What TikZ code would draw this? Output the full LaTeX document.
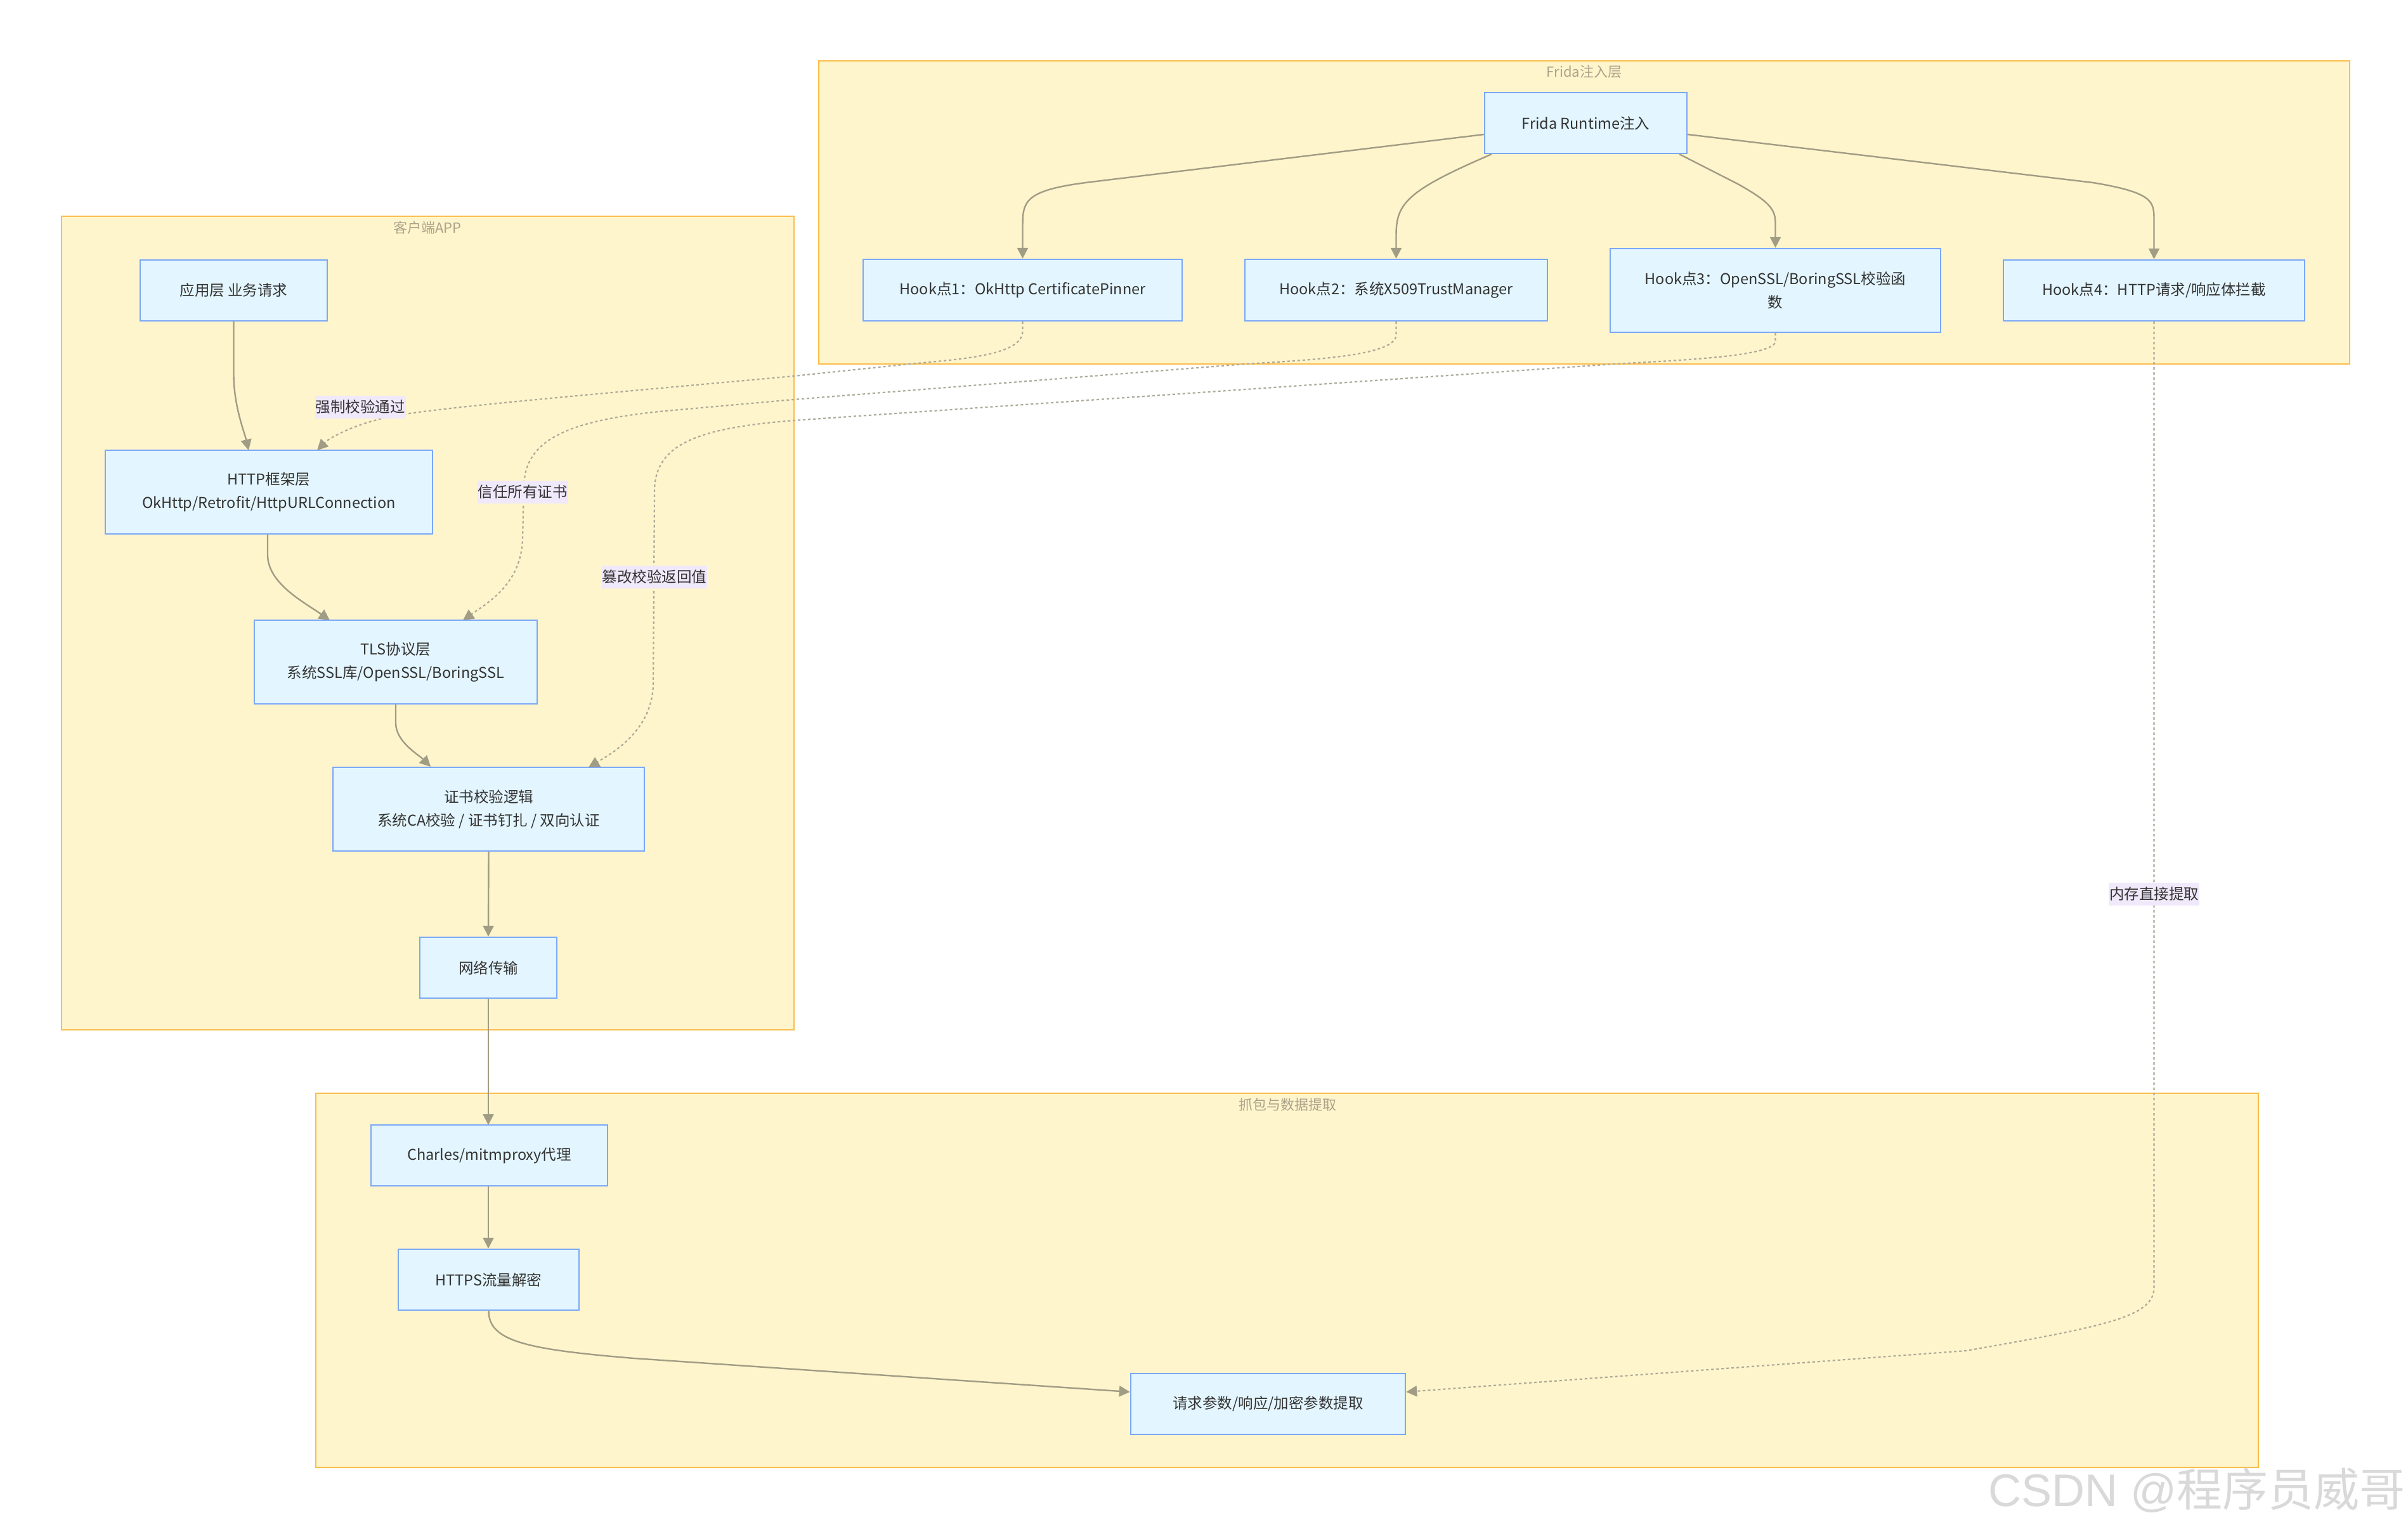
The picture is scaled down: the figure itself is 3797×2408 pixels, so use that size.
\documentclass[tikz,border=0pt]{standalone}
\usepackage{fontspec}
\setmainfont{Noto Sans CJK SC}
\newfontfamily\wmlatin{Liberation Sans}
\usetikzlibrary{arrows.meta}
\definecolor{clusterfill}{HTML}{FFF5CC}
\definecolor{clusterstroke}{HTML}{FBBD4C}
\definecolor{nodefill}{HTML}{E3F5FE}
\definecolor{nodestroke}{HTML}{7BA8F7}
\definecolor{edgec}{HTML}{A19C84}
\definecolor{dashc}{HTML}{ADAA98}
\definecolor{labelbg}{HTML}{F0E9FB}
\definecolor{textc}{HTML}{333333}
\definecolor{titlec}{HTML}{ABA48A}
\definecolor{wmc}{HTML}{D9D9D9}
\newcommand\mynodefont{\fontsize{23.5}{36.5}\selectfont}
\newcommand\mytitlefont{\fontsize{22}{26}\selectfont}
\newcommand\mywmfont{\fontsize{72}{80}\selectfont}
\tikzset{
  cluster/.style={draw=clusterstroke, fill=clusterfill, line width=2.4pt},
  box/.style={draw=nodestroke, fill=nodefill, line width=2.4pt, inner sep=0pt,
    align=center, text=textc, font=\mynodefont},
  flow/.style={draw=edgec, line width=2.4pt, -{Triangle[width=17pt,length=17pt]}},
  dflow/.style={draw=dashc, line width=2.2pt, dash pattern=on 4pt off 4pt,
    -{Triangle[width=17pt,length=17pt,fill=edgec,color=edgec]}},
  elabel/.style={fill=labelbg, text=textc, font=\mynodefont, inner xsep=1pt,
    inner ysep=0pt, minimum height=36pt},
  ctitle/.style={text=titlec, font=\mytitlefont, inner sep=0pt},
}
\begin{document}
\begin{tikzpicture}[x=1pt,y=-1pt]
\useasboundingbox (0,0) rectangle (3797,2408);
\fill[white] (0,0) rectangle (3797,2408);

% clusters
\draw[cluster] (97,341) rectangle (1252,1624);
\draw[cluster] (1291,96) rectangle (3705,574);
\draw[cluster] (498,1724) rectangle (3561,2314);
\node[ctitle] (tclient) at (674,359) {客户端APP};
\node[ctitle] (tfrida) at (2498,113) {Frida注入层};
\node[ctitle] (tcap) at (2030,1742) {抓包与数据提取};

% nodes
\node[box, minimum width=295pt, minimum height=96pt] (app) at (368.5,458) {应用层 业务请求};
\node[box, minimum width=516pt, minimum height=132pt] (http) at (424,776) {HTTP框架层\\OkHttp/Retrofit/HttpURLConnection};
\node[box, minimum width=446pt, minimum height=132pt] (tls) at (624,1044) {TLS协议层\\系统SSL库/OpenSSL/BoringSSL};
\node[box, minimum width=491pt, minimum height=132pt] (cert) at (770.5,1276) {证书校验逻辑\\系统CA校验 / 证书钉扎 / 双向认证};
\node[box, minimum width=216pt, minimum height=96pt] (net) at (770,1526) {网络传输};
\node[box, minimum width=319pt, minimum height=96pt] (frida) at (2500.5,194) {Frida Runtime注入};
\node[box, minimum width=503pt, minimum height=97pt] (h1) at (1612.5,457.5) {Hook点1：OkHttp CertificatePinner};
\node[box, minimum width=477pt, minimum height=97pt] (h2) at (2201.5,457.5) {Hook点2：系统X509TrustManager};
\node[box, minimum width=521pt, minimum height=132pt] (h3) at (2799.5,458) {Hook点3：OpenSSL/BoringSSL校验函\\数};
\node[box, minimum width=475pt, minimum height=96pt] (h4) at (3396.5,458) {Hook点4：HTTP请求/响应体拦截};
\node[box, minimum width=373pt, minimum height=96pt] (charles) at (771.5,1822) {Charles/mitmproxy代理};
\node[box, minimum width=285pt, minimum height=96pt] (https) at (770.5,2018) {HTTPS流量解密};
\node[box, minimum width=433pt, minimum height=96pt] (req) at (1999.5,2214) {请求参数/响应/加密参数提取};

% solid edges
\draw[flow] (app.south) -- (368.5,590) .. controls (368.5,640) and (385,680) .. (392,710);
\draw[flow] ([xshift=-2pt]http.south) -- (422,875) .. controls (422,920) and (480,950) .. (520,978);
\draw[flow] (tls.south) -- (624,1140) .. controls (624,1170) and (660,1190) .. (679,1209);
\draw[flow] (cert.south) -- (net.north);
\draw[flow] (net.south) -- (770,1774);
\draw[flow] ([xshift=-1.5pt]charles.south) -- ([xshift=-0.5pt]https.north);
\draw[flow] (https.south) .. controls (770.5,2115) and (830,2128) .. (1000,2142) -- ([yshift=19pt]req.west);
\draw[flow] ([yshift=-18pt]frida.west) -- (1720,287) .. controls (1612.5,300) and (1612.5,318) .. (1612.5,360) -- (h1.north);
\draw[flow] ([xshift=12pt]frida.south west) .. controls (2220,300) and (2201.5,320) .. (2201.5,370) -- (h2.north);
\draw[flow] ([xshift=-13pt]frida.south east) -- (2740,290) .. controls (2790,318) and (2799.5,330) .. (2799.5,352) -- (h3.north);
\draw[flow] ([yshift=-18pt]frida.east) -- (3300,288) .. controls (3396.5,304) and (3396.5,318) .. (3396.5,348) -- (h4.north);

% dashed edges
\draw[dflow] (h1.south) -- (1612.5,522) .. controls (1612.5,560) and (1520,566) .. (1434,574) -- (1252,593)
  .. controls (900,625) and (700,642) .. (620,656) .. controls (560,668) and (520,690) .. (500,710);
\draw[dflow] (h2.south) -- (2201.5,528) .. controls (2201.5,560) and (2080,567) .. (1964,574) -- (1252,630)
  -- (1050,648) .. controls (880,664) and (826,700) .. (826,770) -- (824,850)
  .. controls (822,920) and (770,950) .. (730,978);
\draw[dflow] (h3.south) -- (2799.5,538) .. controls (2799.5,562) and (2650,568) .. (2546,574) -- (1252,663)
  .. controls (1100,675) and (1032,700) .. (1032,775) -- (1030,1080)
  .. controls (1028,1150) and (970,1185) .. (928,1210);
\draw[dflow] (h4.south) -- (3396.5,2030) .. controls (3396.5,2075) and (3330,2090) .. (3100,2130)
  -- ([yshift=19pt]req.east);

% edge labels
\node[elabel] (l1) at (568,642) {强制校验通过};
\node[elabel] (l2) at (824,776) {信任所有证书};
\node[elabel] (l3) at (1032,910) {篡改校验返回值};
\node[elabel] (l4) at (3396.5,1410) {内存直接提取};

% watermark
\node[anchor=east, text=wmc, font=\mywmfont, inner sep=0pt] (wm) at (3793,2350) {{\wmlatin CSDN @}程序员威哥};
\end{tikzpicture}
\end{document}
